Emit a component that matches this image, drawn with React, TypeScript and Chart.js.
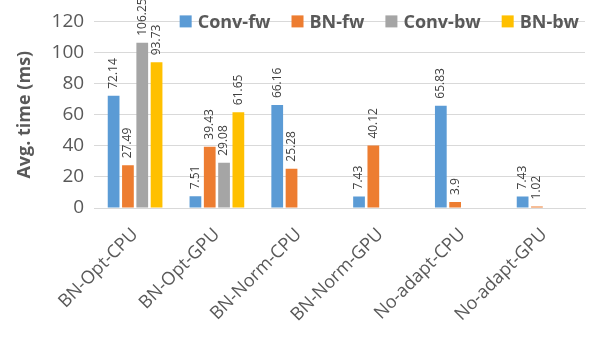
import React, { useEffect, useRef } from "react";
import { Chart, registerables } from "chart.js";

Chart.register(...registerables);

const categories = ["BN-Opt-CPU", "BN-Opt-GPU", "BN-Norm-CPU", "BN-Norm-GPU", "No-adapt-CPU", "No-adapt-GPU"];
const seriesNames = ["Conv-fw", "BN-fw", "Conv-bw", "BN-bw"];
const convFw = [72.14, 7.51, 66.16, 7.43, 65.83, 7.43];
const bnFw = [27.49, 39.43, 25.28, 40.12, 3.9, 1.02];
const convBw = [106.25, 29.08, null, null, null, null];
const bnBw = [93.73, 61.65, null, null, null, null];
const colors = ["#5B9BD5", "#ED7D31", "#A5A5A5", "#FFC000"];
const yTicks = [0, 20, 40, 60, 80, 100, 120];

const FONT = "'Open Sans', 'Noto Sans', sans-serif";
const TEXT = "#595959";

const labelPlugin = {
  id: "valueLabels",
  afterDatasetsDraw(chart: any) {
    const ctx = chart.ctx;
    ctx.save();
    ctx.font = `12px ${FONT}`;
    ctx.fillStyle = "#404040";
    ctx.textAlign = "left";
    ctx.textBaseline = "middle";
    chart.data.datasets.forEach((ds: any, i: number) => {
      const meta = chart.getDatasetMeta(i);
      meta.data.forEach((el: any, j: number) => {
        const v = ds.data[j];
        if (v === null || v === undefined) return;
        ctx.save();
        ctx.translate(el.x, el.y - 7);
        ctx.rotate(-Math.PI / 2);
        ctx.fillText(String(v), 0, 0);
        ctx.restore();
      });
    });
    ctx.restore();
  },
};

const legendPlugin = {
  id: "customLegend",
  afterDraw(chart: any) {
    const ctx = chart.ctx;
    const area = chart.chartArea;
    ctx.save();
    ctx.font = `bold 18px ${FONT}`;
    ctx.textBaseline = "middle";
    const box = 12;
    const gapBoxText = 6;
    const gapItems = 21;
    const widths = seriesNames.map((n) => ctx.measureText(n).width);
    const total = widths.reduce((a, b) => a + b, 0) + seriesNames.length * (box + gapBoxText) + (seriesNames.length - 1) * gapItems;
    let x = area.right - 6 - total;
    const y = area.top;
    seriesNames.forEach((n, i) => {
      ctx.fillStyle = colors[i];
      ctx.fillRect(x, y - box / 2, box, box);
      x += box + gapBoxText;
      ctx.fillStyle = TEXT;
      ctx.textAlign = "left";
      ctx.fillText(n, x, y + 1);
      x += widths[i] + gapItems;
    });
    ctx.restore();
  },
};

export default function App() {
  const ref = useRef<HTMLCanvasElement | null>(null);
  useEffect(() => {
    if (!ref.current) return;
    const allData = [convFw, bnFw, convBw, bnBw];
    const chart = new Chart(ref.current, {
      type: "bar",
      data: {
        labels: categories,
        datasets: seriesNames.map((name, i) => ({
          label: name,
          data: allData[i],
          backgroundColor: colors[i],
          borderWidth: 0,
          categoryPercentage: 0.7,
          barPercentage: 0.82,
        })),
      },
      options: {
        animation: false,
        responsive: false,
        maintainAspectRatio: false,
        layout: { padding: { top: 12, right: 13, bottom: 0, left: 14 } },
        plugins: {
          legend: { display: false },
          tooltip: { enabled: false },
        },
        scales: {
          x: {
            afterFit: (axis: any) => {
              axis.height = 149;
            },
            grid: { display: false, drawTicks: false },
            border: { display: true, color: "#d9d9d9" },
            ticks: {
              color: TEXT,
              font: { family: FONT, size: 18 },
              maxRotation: 45,
              minRotation: 45,
              padding: 16,
              autoSkip: false,
            },
          },
          y: {
            min: 0,
            max: 120,
            afterBuildTicks: (axis: any) => {
              axis.ticks = yTicks.map((v) => ({ value: v }));
            },
            grid: { color: "#d9d9d9", drawTicks: false },
            border: { display: false },
            ticks: {
              color: TEXT,
              font: { family: FONT, size: 19 },
              padding: 10,
            },
            title: {
              display: true,
              text: "Avg. time (ms)",
              color: TEXT,
              font: { family: FONT, size: 18, weight: "bold" },
              padding: { top: 0, bottom: 6 },
            },
          },
        },
      },
      plugins: [labelPlugin, legendPlugin],
    });
    return () => chart.destroy();
  }, []);
  return (
    <div style={{ position: "fixed", left: 0, top: 0, width: 598, height: 357, background: "#fff" }}>
      <canvas ref={ref} width={598} height={357} style={{ width: 598, height: 357, display: "block" }} />
    </div>
  );
}
